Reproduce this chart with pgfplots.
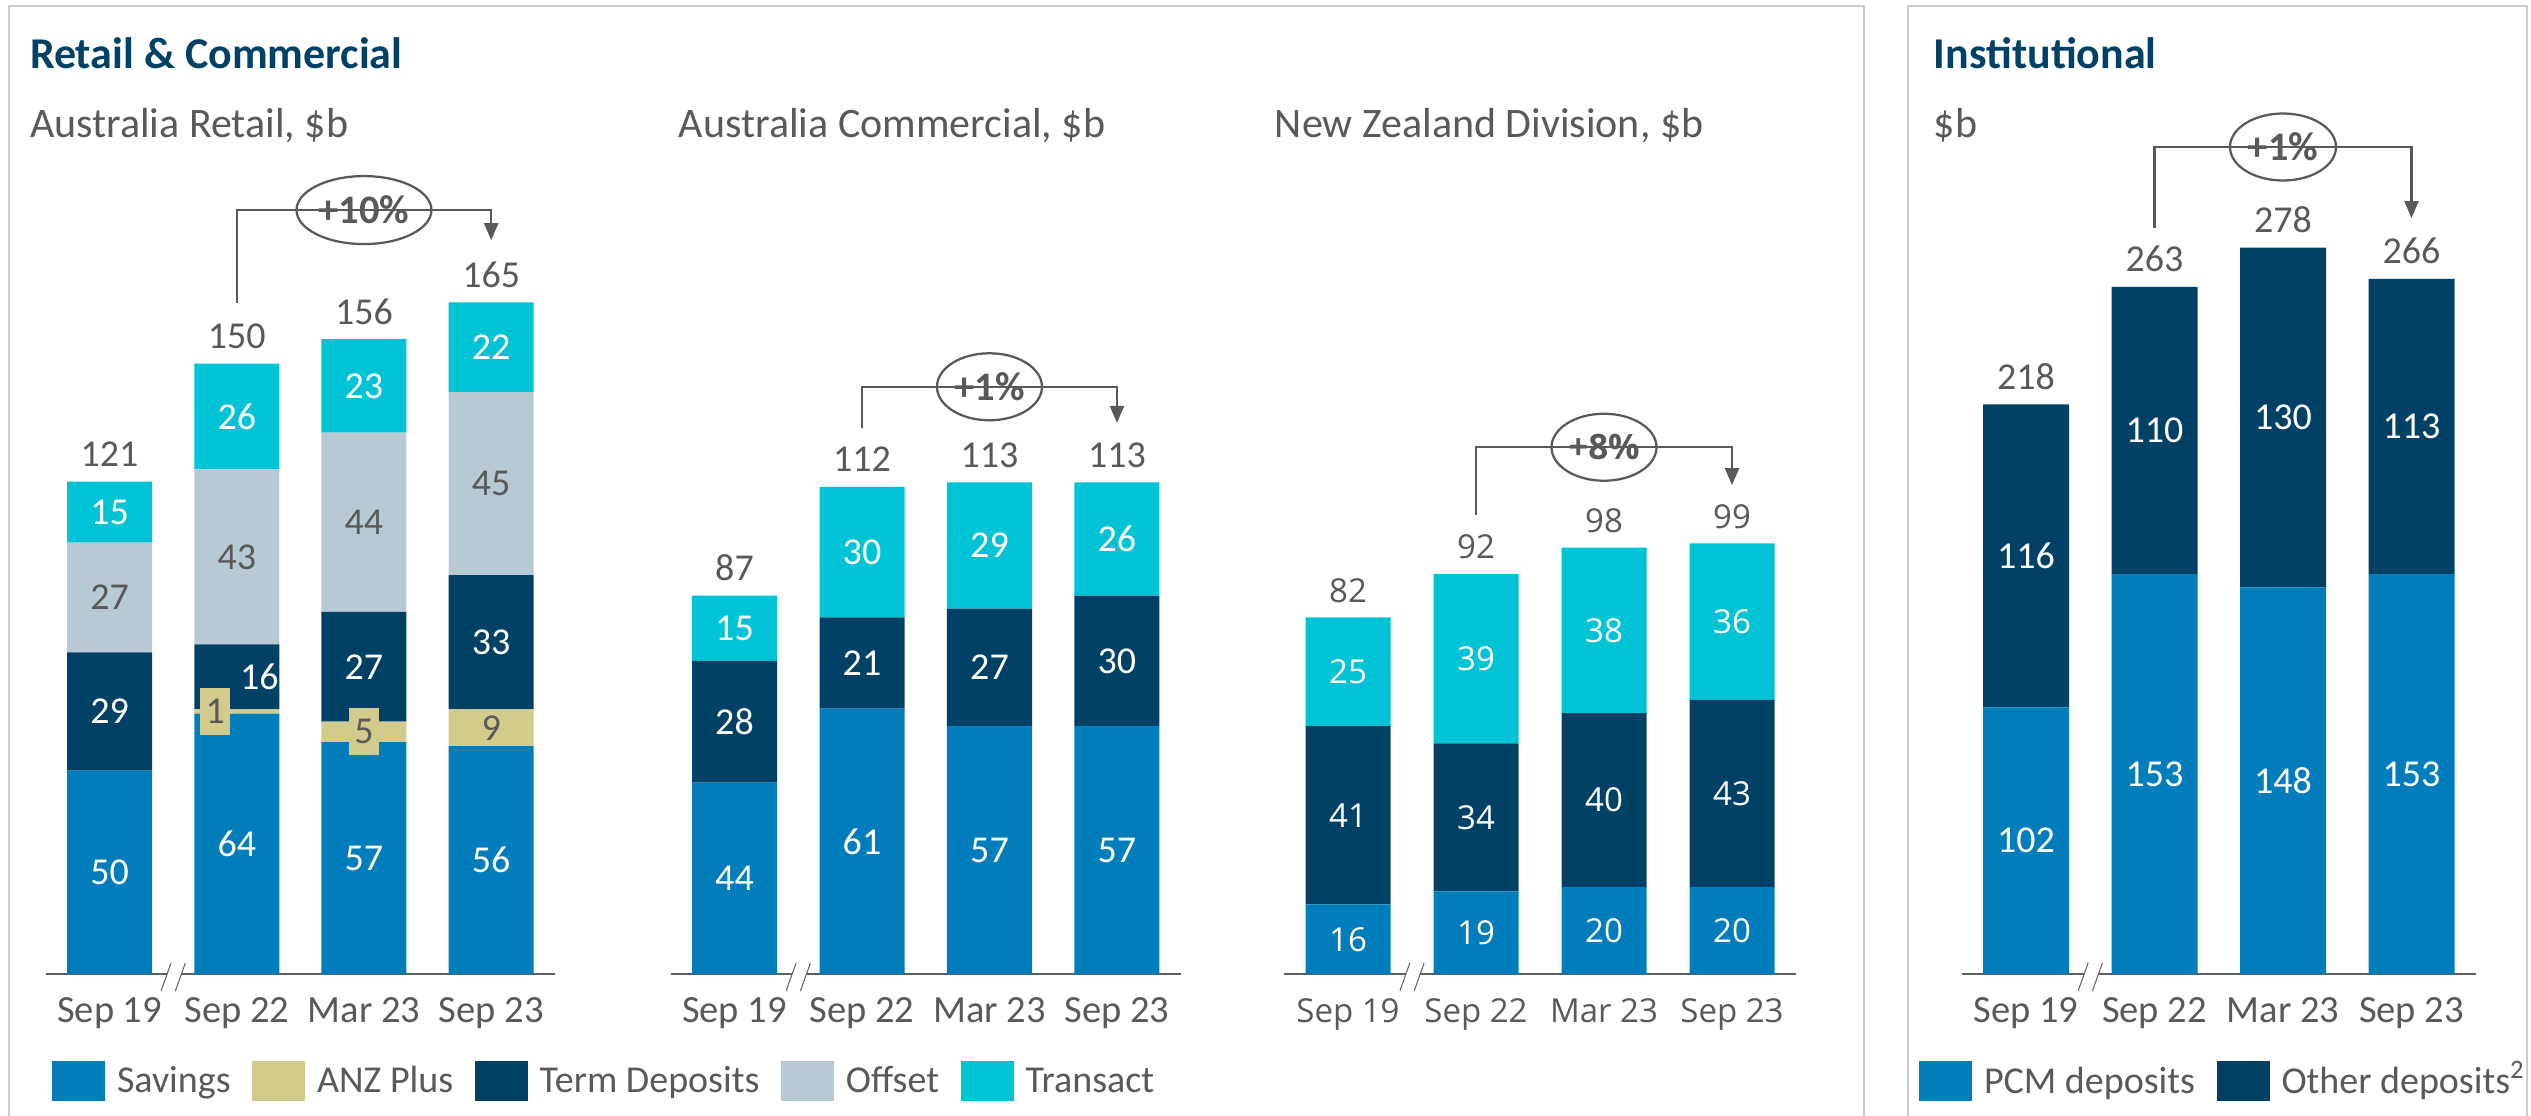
\documentclass[border=0pt]{standalone}
\usepackage{fontspec}
\setmainfont{Carlito}
\newfontfamily\nzfont{Open Sans}
\usepackage{pgfplots}
\pgfplotsset{compat=1.18}
\usetikzlibrary{arrows.meta}

\definecolor{csav}{HTML}{007DBA}
\definecolor{cplus}{HTML}{D2CC8C}
\definecolor{cterm}{HTML}{004165}
\definecolor{coff}{HTML}{B7C9D3}
\definecolor{ctra}{HTML}{00C4D6}
\definecolor{navy}{HTML}{004165}
\definecolor{textgray}{HTML}{595959}
\definecolor{axisgray}{HTML}{5F5F5F}
\definecolor{bordergray}{HTML}{CACACA}

\newcommand{\labfont}{\fontsize{7.6pt}{8pt}\selectfont}
\newcommand{\tickfont}{\fontsize{7.7pt}{9pt}\selectfont}
\newcommand{\legfont}{\fontsize{7.6pt}{9pt}\selectfont}
\newcommand{\subfont}{\fontsize{8.4pt}{10pt}\selectfont}
\newcommand{\titfont}{\fontsize{8.8pt}{10pt}\selectfont\bfseries}
\newcommand{\pctfont}{\fontsize{8.1pt}{9pt}\selectfont\bfseries}
\newcommand{\nzlab}{\nzfont\fontsize{6.6pt}{8pt}\selectfont}
\newcommand{\nztick}{\nzfont\fontsize{6.6pt}{8pt}\selectfont}
\newcommand{\nzpct}{\nzfont\fontsize{7pt}{8pt}\selectfont\bfseries}

\tikzset{
  conn/.style={draw=textgray, line width=0.45pt, -{Triangle[width=2.8pt,length=3.4pt]}},
  pillring/.style={draw=textgray, line width=0.45pt, fill=white},
  pilltext/.style={inner sep=0pt, text=textgray},
  brk/.style={draw=axisgray, line width=0.45pt},
  totlab/.style={anchor=base, inner sep=0pt, yshift=3pt, text=textgray},
}

\pgfplotsset{
  /pgf/number format/assume math mode=true,
  chart/.style={
    scale only axis, clip=false, anchor=south west,
    ybar stacked,
    xmin=-0.5, xmax=3.5, ymin=0,
    enlarge x limits=false, enlarge y limits=false,
    axis x line=bottom, axis y line=none,
    x axis line style={-, draw=axisgray, line width=0.55pt},
    xtick={0,1,2,3},
    xticklabels={Sep 19, Sep 22, Mar 23, Sep 23},
    major tick length=0pt,
    xtick style={draw=none},
    ytick=\empty,
    xticklabel style={anchor=base, yshift=-9.6pt, font=\tickfont, text=textgray},
  },
  seg/.style 2 args={
    fill=#1, draw=none,
    nodes near coords={\pgfmathprintnumber{\rawy}},
    visualization depends on={rawy \as \rawy},
    every node near coord/.append style={anchor=center, inner sep=0pt, font=#2, text=white},
  },
}

\begin{document}
\begin{tikzpicture}
\useasboundingbox (0,0) rectangle (506.2pt,-223pt);

\begin{scope}[x=0.2pt,y=-0.2pt]
  \draw[bordergray, line width=0.4pt] (9,1116) -- (9,6) -- (1864.5,6) -- (1864.5,1116);
  \draw[bordergray, line width=0.4pt] (1908,1116) -- (1908,6) -- (2527,6) -- (2527,1116);
  \node[anchor=base west, inner sep=0pt, font=\titfont, text=navy] at (29,68) {Retail \& Commercial};
  \node[anchor=base west, inner sep=0pt, font=\titfont, text=navy] at (1933,68) {Institutional};
  \node[anchor=base west, inner sep=0pt, font=\subfont, text=textgray] at (29,137) {Australia Retail, \$b};
  \node[anchor=base west, inner sep=0pt, font=\subfont, text=textgray] at (678,137) {Australia Commercial, \$b};
  \node[anchor=base west, inner sep=0pt, font=\subfont, text=textgray] at (1274,137) {New Zealand Division, \$b};
  \node[anchor=base west, inner sep=0pt, font=\subfont, text=textgray] at (1933,137) {\$b};
\end{scope}

% ---------------- Australia Retail ----------------
\begin{axis}[chart,
  at={(9.2pt,-194.8pt)}, width=101.76pt, height=162.8pt, ymax=200, bar width=17pt,
  legend columns=-1,
  legend image code/.code={\fill[#1] (0pt,-1.6pt) rectangle (10.6pt,6.4pt);},
  legend style={at={(0.0118,-0.1314)}, anchor=west, draw=none, fill=none,
    inner sep=0pt, outer sep=0pt, font=\legfont, text=textgray,
    nodes={inner sep=0pt, anchor=base west},
    /tikz/every odd column/.append style={column sep=2.4pt},
    /tikz/every even column/.append style={column sep=4.3pt}},
]
\addplot[seg={csav}{\labfont}] coordinates {(0,50) (1,64) (2,57) (3,56)};
\addplot[fill=cplus, draw=none,
  visualization depends on={rawy \as \ry},
  nodes near coords={\ifdim\ry pt>0pt \pgfmathprintnumber{\ry}\fi},
  every node near coord/.append style={anchor=center, inner sep=0pt, font=\labfont, text=textgray, fill=cplus,
    minimum width={and(\ry>0,\ry<9)*6pt}, minimum height={and(\ry>0,\ry<9)*9.4pt},
    xshift={(\ry==1)*(-4.3pt)}}]
  coordinates {(0,0) (1,1) (2,5) (3,9)};
\addplot[seg={cterm}{\labfont},
  visualization depends on={rawx \as \xv},
  every node near coord/.append style={xshift={(\xv==1)*4.5pt}}] coordinates {(0,29) (1,16) (2,27) (3,33)};
\addplot[seg={coff}{\labfont}, every node near coord/.append style={text=textgray}] coordinates {(0,27) (1,43) (2,44) (3,45)};
\addplot[seg={ctra}{\labfont}] coordinates {(0,15) (1,26) (2,23) (3,22)};
\legend{Savings, ANZ Plus, Term Deposits, Offset, Transact}
\node[totlab, font=\labfont] at (axis cs:0,121) {121};
\node[totlab, font=\labfont] at (axis cs:1,150) {150};
\node[totlab, font=\labfont] at (axis cs:2,156) {156};
\node[totlab, font=\labfont] at (axis cs:3,165) {165};
\fill[white] (axis cs:0.5,0) ++(-2.3pt,-3.4pt) -- ++(2pt,5.6pt) -- ++(2.6pt,0pt) -- ++(-2pt,-5.6pt) -- cycle;
\draw[brk] (axis cs:0.5,0) ++(-2.3pt,-3.4pt) -- ++(2pt,5.6pt);
\draw[brk] (axis cs:0.5,0) ++(0.3pt,-3.4pt) -- ++(2pt,5.6pt);
\draw[conn] (axis cs:1,164.9) |- (axis cs:3,187.7) -- (axis cs:3,180.3);
\filldraw[pillring] (axis cs:2,187.7) ellipse (13.5pt and 6.8pt) node[pilltext, font=\pctfont] {+10\%};
\end{axis}

% ---------------- Australia Commercial ----------------
\begin{axis}[chart,
  at={(134.15pt,-194.8pt)}, width=102pt, height=130.5pt, ymax=150, bar width=17pt,
]
\addplot[seg={csav}{\labfont}] coordinates {(0,44) (1,61) (2,57) (3,57)};
\addplot[seg={cterm}{\labfont}] coordinates {(0,28) (1,21) (2,27) (3,30)};
\addplot[seg={ctra}{\labfont}] coordinates {(0,15) (1,30) (2,29) (3,26)};
\node[totlab, font=\labfont] at (axis cs:0,87) {87};
\node[totlab, font=\labfont] at (axis cs:1,112) {112};
\node[totlab, font=\labfont] at (axis cs:2,113) {113};
\node[totlab, font=\labfont] at (axis cs:3,113) {113};
\fill[white] (axis cs:0.5,0) ++(-2.3pt,-3.4pt) -- ++(2pt,5.6pt) -- ++(2.6pt,0pt) -- ++(-2pt,-5.6pt) -- cycle;
\draw[brk] (axis cs:0.5,0) ++(-2.3pt,-3.4pt) -- ++(2pt,5.6pt);
\draw[brk] (axis cs:0.5,0) ++(0.3pt,-3.4pt) -- ++(2pt,5.6pt);
\draw[conn] (axis cs:1,125.5) |- (axis cs:3,135) -- (axis cs:3,126.7);
\filldraw[pillring] (axis cs:2,135) ellipse (10.5pt and 6.7pt) node[pilltext, font=\pctfont] {+1\%};
\end{axis}

% ---------------- New Zealand Division ----------------
\begin{axis}[chart,
  at={(256.8pt,-194.8pt)}, width=102.4pt, height=130.5pt, ymax=150, bar width=17pt,
  xticklabel style={font=\nztick},
]
\addplot[seg={csav}{\nzlab}] coordinates {(0,16) (1,19) (2,20) (3,20)};
\addplot[seg={cterm}{\nzlab}] coordinates {(0,41) (1,34) (2,40) (3,43)};
\addplot[seg={ctra}{\nzlab}] coordinates {(0,25) (1,39) (2,38) (3,36)};
\node[totlab, font=\nzlab] at (axis cs:0,82) {82};
\node[totlab, font=\nzlab] at (axis cs:1,92) {92};
\node[totlab, font=\nzlab] at (axis cs:2,98) {98};
\node[totlab, font=\nzlab] at (axis cs:3,99) {99};
\fill[white] (axis cs:0.5,0) ++(-2.3pt,-3.4pt) -- ++(2pt,5.6pt) -- ++(2.6pt,0pt) -- ++(-2pt,-5.6pt) -- cycle;
\draw[brk] (axis cs:0.5,0) ++(-2.3pt,-3.4pt) -- ++(2pt,5.6pt);
\draw[brk] (axis cs:0.5,0) ++(0.3pt,-3.4pt) -- ++(2pt,5.6pt);
\draw[conn] (axis cs:1,105.5) |- (axis cs:3,121.1) -- (axis cs:3,112.4);
\filldraw[pillring] (axis cs:2,121.1) ellipse (10.5pt and 6.7pt) node[pilltext, font=\nzpct] {+8\%};
\end{axis}

% ---------------- Institutional ----------------
\begin{axis}[chart,
  at={(392.35pt,-194.8pt)}, width=102.8pt, height=172.458pt, ymax=330, bar width=17.2pt,
  legend columns=-1,
  legend image code/.code={\fill[#1] (0pt,-1.6pt) rectangle (10.6pt,6.4pt);},
  legend style={at={(-0.0832,-0.1241)}, anchor=west, draw=none, fill=none,
    inner sep=0pt, outer sep=0pt, font=\legfont, text=textgray,
    nodes={inner sep=0pt, anchor=base west},
    /tikz/every odd column/.append style={column sep=2.4pt},
    /tikz/every even column/.append style={column sep=4.3pt}},
]
\addplot[seg={csav}{\labfont}] coordinates {(0,102) (1,153) (2,148) (3,153)};
\addplot[seg={cterm}{\labfont}] coordinates {(0,116) (1,110) (2,130) (3,113)};
\legend{PCM deposits, Other deposits\textsuperscript{2}}
\node[totlab, font=\labfont] at (axis cs:0,218) {218};
\node[totlab, font=\labfont] at (axis cs:1,263) {263};
\node[totlab, font=\labfont] at (axis cs:2,278) {278};
\node[totlab, font=\labfont] at (axis cs:3,266) {266};
\fill[white] (axis cs:0.5,0) ++(-2.3pt,-3.4pt) -- ++(2pt,5.6pt) -- ++(2.6pt,0pt) -- ++(-2pt,-5.6pt) -- cycle;
\draw[brk] (axis cs:0.5,0) ++(-2.3pt,-3.4pt) -- ++(2pt,5.6pt);
\draw[brk] (axis cs:0.5,0) ++(0.3pt,-3.4pt) -- ++(2pt,5.6pt);
\draw[conn] (axis cs:1,285.5) |- (axis cs:3,316.5) -- (axis cs:3,289.3);
\filldraw[pillring] (axis cs:2,316.5) ellipse (10.6pt and 6.7pt) node[pilltext, font=\pctfont] {+1\%};
\end{axis}
\end{tikzpicture}
\end{document}
